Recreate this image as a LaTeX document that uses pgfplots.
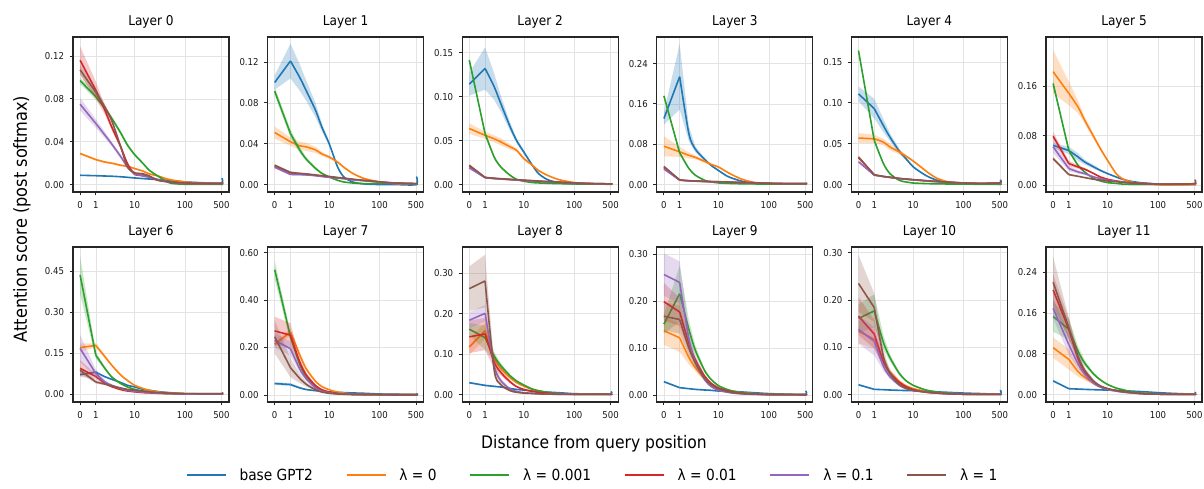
\documentclass[border=0pt]{standalone}
\usepackage{fontspec}
\setmainfont{DejaVu Sans Condensed}
\usepackage{pgfplots}
\pgfplotsset{compat=1.18}
\usepackage{pgfplotstable}
\definecolor{cb}{HTML}{1F77B4}
\definecolor{co}{HTML}{FF7F0E}
\definecolor{cg}{HTML}{2CA02C}
\definecolor{cr}{HTML}{D62728}
\definecolor{cp}{HTML}{9467BD}
\definecolor{cn}{HTML}{8C564B}

% columns: distance, means (base, lambda=0, 0.001, 0.01, 0.1, 1), band half-widths
\pgfplotstableread{
d b o g r p n wb wo wg wr wp wn
0 0.0087 0.029 0.097 0.116 0.075 0.107 0.0005 0.001 0.003 0.013 0.006 0.005
1 0.0083 0.0233 0.082 0.088 0.057 0.086 0.0004 0.001 0.003 0.008 0.004 0.004
2 0.0080 0.021 0.071 0.069 0.046 0.072 0.0003 0.001 0.002 0.004 0.003 0.003
3 0.0078 0.020 0.062 0.054 0.038 0.060 0.0003 0.001 0.002 0.003 0.002 0.002
5 0.0073 0.018 0.048 0.035 0.026 0.035 0.0003 0.001 0.002 0.002 0.002 0.002
7 0.0068 0.017 0.037 0.0196 0.0165 0.0165 0.0003 0.001 0.002 0.002 0.001 0.001
10 0.0062 0.015 0.028 0.0096 0.010 0.011 0.0003 0.0008 0.001 0.001 0.001 0.001
15 0.0056 0.0125 0.0196 0.0087 0.008 0.010 0.0002 0.0008 0.001 0.001 0.001 0.001
20 0.0052 0.010 0.0134 0.007 0.007 0.008 0.0002 0.0005 0.001 0.001 0.001 0.001
30 0.0046 0.008 0.0078 0.004 0.0047 0.004 0.0002 0.0005 0.0005 0.0005 0.0005 0.0005
50 0.0038 0.0047 0.0016 0.0025 0.0025 0.0025 0.0002 0.0005 0.0003 0.0005 0.0005 0.0005
100 0.0025 0.0025 0.0003 0.001 0.0012 0.0016 0.0002 0.0003 0.0002 0.0003 0.0003 0.0003
200 0.0018 0.0015 0.0002 0.001 0.001 0.0012 0.0002 0.0002 0.0002 0.0003 0.0003 0.0003
500 0.0015 0.001 0.0002 0.001 0.001 0.001 0.0002 0.0002 0.0002 0.0003 0.0003 0.0003
511 0.006 0.001 0.0002 0.002 0.001 0.002 0.0005 0.0002 0.0002 0.0003 0.0003 0.0003
}\tabA
\pgfplotstableread{
d b o g r p n wb wo wg wr wp wn
0 0.100 0.051 0.0915 0.018 0.017 0.019 0.007 0.006 0.004 0.001 0.001 0.001
1 0.121 0.042 0.050 0.011 0.010 0.012 0.017 0.004 0.004 0.001 0.001 0.001
2 0.105 0.038 0.034 0.0105 0.0098 0.011 0.013 0.004 0.003 0.001 0.001 0.001
3 0.092 0.037 0.025 0.010 0.0095 0.0105 0.010 0.004 0.002 0.0008 0.0008 0.0008
5 0.073 0.034 0.016 0.009 0.0088 0.0095 0.007 0.003 0.0015 0.0005 0.0005 0.0005
7 0.056 0.030 0.011 0.0082 0.008 0.0088 0.004 0.002 0.001 0.0005 0.0005 0.0005
10 0.040 0.027 0.0075 0.0075 0.0072 0.008 0.002 0.0015 0.001 0.0005 0.0005 0.0005
15 0.017 0.022 0.0042 0.0066 0.0064 0.007 0.001 0.001 0.0005 0.0005 0.0005 0.0005
20 0.0075 0.017 0.0026 0.006 0.0058 0.0064 0.0005 0.001 0.0005 0.0003 0.0003 0.0003
30 0.0026 0.011 0.0016 0.005 0.0048 0.0053 0.0003 0.0005 0.0003 0.0003 0.0003 0.0003
50 0.0007 0.006 0.001 0.004 0.0038 0.0042 0.0002 0.0005 0.0002 0.0003 0.0003 0.0003
100 0.0001 0.0026 0.001 0.0026 0.0025 0.0028 0.0001 0.0003 0.0002 0.0002 0.0002 0.0002
200 0.0001 0.001 0.0016 0.0015 0.0014 0.0016 0.0001 0.0002 0.0003 0.0002 0.0002 0.0002
500 0.0001 0.0005 0.0002 0.001 0.001 0.001 0.0001 0.0002 0.0002 0.0002 0.0002 0.0002
511 0.008 0.0005 0.0002 0.001 0.001 0.001 0.001 0.0002 0.0002 0.0002 0.0002 0.0002
}\tabB
\pgfplotstableread{
d b o g r p n wb wo wg wr wp wn
0 0.114 0.0637 0.1414 0.021 0.019 0.022 0.013 0.006 0.002 0.001 0.001 0.001
1 0.132 0.056 0.058 0.008 0.0078 0.0082 0.024 0.004 0.003 0.0005 0.0005 0.0005
2 0.111 0.052 0.031 0.007 0.0068 0.0072 0.015 0.004 0.002 0.0005 0.0005 0.0005
3 0.092 0.0485 0.020 0.0065 0.0063 0.0067 0.009 0.004 0.001 0.0005 0.0005 0.0005
5 0.066 0.043 0.0106 0.0058 0.0056 0.006 0.005 0.003 0.001 0.0005 0.0005 0.0005
7 0.050 0.039 0.006 0.0053 0.0051 0.0055 0.003 0.002 0.0005 0.0005 0.0005 0.0005
10 0.037 0.0296 0.0038 0.0048 0.0046 0.005 0.002 0.0015 0.0005 0.0005 0.0005 0.0005
15 0.022 0.022 0.0023 0.0043 0.0041 0.0045 0.001 0.001 0.0003 0.0003 0.0003 0.0003
20 0.0125 0.016 0.0019 0.0038 0.0037 0.004 0.0008 0.001 0.0003 0.0003 0.0003 0.0003
30 0.0057 0.0106 0.0015 0.0033 0.0032 0.0034 0.0005 0.0005 0.0002 0.0003 0.0003 0.0003
50 0.0023 0.0057 0.0011 0.0027 0.0026 0.0028 0.0003 0.0005 0.0002 0.0002 0.0002 0.0002
100 0.0008 0.0023 0.0008 0.0018 0.0018 0.0019 0.0002 0.0003 0.0002 0.0002 0.0002 0.0002
200 0.0005 0.001 0.0006 0.0012 0.0012 0.0013 0.0001 0.0002 0.0001 0.0002 0.0002 0.0002
500 0.0005 0.0005 0.0004 0.0008 0.0008 0.0008 0.0001 0.0002 0.0001 0.0002 0.0002 0.0002
511 0.001 0.0005 0.0004 0.0008 0.0008 0.0008 0.0002 0.0002 0.0001 0.0002 0.0002 0.0002
}\tabC
\pgfplotstableread{
d b o g r p n wb wo wg wr wp wn
0 0.131 0.076 0.176 0.034 0.031 0.036 0.012 0.020 0.002 0.002 0.002 0.002
1 0.214 0.065 0.063 0.009 0.0088 0.0092 0.065 0.010 0.003 0.0005 0.0005 0.0005
2 0.101 0.058 0.032 0.0075 0.0073 0.0077 0.015 0.006 0.002 0.0005 0.0005 0.0005
3 0.070 0.054 0.0185 0.007 0.0068 0.0072 0.006 0.004 0.001 0.0005 0.0005 0.0005
5 0.050 0.046 0.0086 0.0062 0.006 0.0064 0.003 0.003 0.001 0.0005 0.0005 0.0005
7 0.038 0.040 0.0053 0.0058 0.0056 0.006 0.002 0.002 0.0005 0.0005 0.0005 0.0005
10 0.028 0.035 0.0033 0.0055 0.0053 0.0057 0.001 0.0015 0.0005 0.0005 0.0005 0.0005
15 0.017 0.025 0.0025 0.005 0.0048 0.0052 0.001 0.001 0.0003 0.0003 0.0003 0.0003
20 0.012 0.0185 0.002 0.0045 0.0044 0.0047 0.0008 0.001 0.0003 0.0003 0.0003 0.0003
30 0.0066 0.0106 0.0016 0.004 0.0039 0.0042 0.0005 0.0005 0.0002 0.0003 0.0003 0.0003
50 0.0026 0.0046 0.0013 0.0035 0.0034 0.0036 0.0003 0.0005 0.0002 0.0003 0.0003 0.0003
100 0.0013 0.002 0.0011 0.0026 0.0026 0.0027 0.0002 0.0003 0.0002 0.0002 0.0002 0.0002
200 0.001 0.0012 0.001 0.002 0.002 0.0021 0.0002 0.0002 0.0002 0.0002 0.0002 0.0002
500 0.001 0.001 0.0009 0.002 0.002 0.0022 0.0002 0.0002 0.0002 0.0002 0.0002 0.0002
511 0.002 0.001 0.0009 0.002 0.002 0.003 0.0003 0.0002 0.0002 0.0002 0.0002 0.0003
}\tabD
\pgfplotstableread{
d b o g r p n wb wo wg wr wp wn
0 0.111 0.057 0.164 0.033 0.028 0.034 0.009 0.006 0.001 0.001 0.001 0.001
1 0.093 0.056 0.054 0.012 0.0115 0.012 0.012 0.005 0.002 0.0005 0.0005 0.0005
2 0.072 0.052 0.0256 0.010 0.0098 0.010 0.008 0.004 0.001 0.0005 0.0005 0.0005
3 0.058 0.046 0.0134 0.009 0.0088 0.009 0.005 0.004 0.0005 0.0005 0.0005 0.0005
5 0.041 0.040 0.0053 0.0075 0.0073 0.0076 0.003 0.003 0.0005 0.0005 0.0005 0.0005
7 0.032 0.035 0.0033 0.0068 0.0066 0.0069 0.002 0.002 0.0003 0.0005 0.0005 0.0005
10 0.022 0.029 0.002 0.006 0.0058 0.0061 0.001 0.001 0.0003 0.0003 0.0003 0.0003
15 0.0145 0.021 0.0015 0.0052 0.005 0.0053 0.001 0.001 0.0002 0.0003 0.0003 0.0003
20 0.010 0.015 0.0012 0.0045 0.0044 0.0046 0.0005 0.0008 0.0002 0.0003 0.0003 0.0003
30 0.0055 0.008 0.001 0.0038 0.0037 0.0039 0.0003 0.0005 0.0002 0.0003 0.0003 0.0003
50 0.0025 0.0035 0.0008 0.003 0.003 0.0031 0.0002 0.0003 0.0002 0.0002 0.0002 0.0002
100 0.0012 0.0013 0.0006 0.002 0.002 0.0021 0.0002 0.0002 0.0001 0.0002 0.0002 0.0002
200 0.0012 0.0008 0.0005 0.0015 0.0015 0.0016 0.0002 0.0002 0.0001 0.0002 0.0002 0.0002
500 0.002 0.0005 0.0004 0.002 0.0015 0.002 0.0003 0.0002 0.0001 0.0002 0.0002 0.0002
511 0.006 0.0005 0.0004 0.003 0.002 0.004 0.0005 0.0002 0.0001 0.0003 0.0002 0.0003
}\tabE
\pgfplotstableread{
d b o g r p n wb wo wg wr wp wn
0 0.0644 0.183 0.164 0.079 0.062 0.043 0.004 0.035 0.004 0.007 0.010 0.003
1 0.056 0.148 0.056 0.035 0.027 0.0172 0.006 0.019 0.003 0.004 0.004 0.002
2 0.0456 0.126 0.032 0.0295 0.0215 0.0145 0.006 0.010 0.002 0.003 0.003 0.001
3 0.0376 0.105 0.0215 0.026 0.0188 0.0124 0.004 0.006 0.001 0.002 0.002 0.001
5 0.0295 0.078 0.0107 0.0188 0.0134 0.0097 0.003 0.004 0.001 0.001 0.001 0.001
7 0.024 0.059 0.007 0.0134 0.011 0.0085 0.002 0.003 0.0005 0.001 0.001 0.0005
10 0.0188 0.040 0.0043 0.0097 0.008 0.007 0.001 0.002 0.0005 0.0005 0.0005 0.0005
15 0.0134 0.0188 0.003 0.007 0.0065 0.0058 0.001 0.001 0.0003 0.0005 0.0005 0.0005
20 0.0097 0.0107 0.002 0.0054 0.0054 0.0048 0.0008 0.001 0.0003 0.0003 0.0003 0.0003
30 0.0064 0.0054 0.0017 0.0038 0.0042 0.004 0.0005 0.0005 0.0002 0.0003 0.0003 0.0003
50 0.0038 0.0027 0.0016 0.0027 0.0032 0.0032 0.0003 0.0003 0.0002 0.0003 0.0003 0.0003
100 0.002 0.001 0.0016 0.0016 0.002 0.002 0.0002 0.0002 0.0002 0.0002 0.0002 0.0002
200 0.0016 0.0008 0.0018 0.0015 0.0017 0.002 0.0002 0.0002 0.0002 0.0002 0.0002 0.0002
500 0.0016 0.0008 0.0025 0.002 0.002 0.0027 0.0002 0.0002 0.0003 0.0002 0.0002 0.0003
511 0.003 0.0008 0.0025 0.004 0.003 0.009 0.0003 0.0002 0.0003 0.0003 0.0003 0.0005
}\tabF
\pgfplotstableread{
d b o g r p n wb wo wg wr wp wn
0 0.072 0.171 0.437 0.095 0.168 0.088 0.004 0.015 0.070 0.030 0.050 0.012
1 0.081 0.179 0.143 0.065 0.076 0.045 0.004 0.008 0.012 0.010 0.015 0.006
2 0.064 0.137 0.094 0.040 0.045 0.037 0.003 0.006 0.006 0.005 0.006 0.004
3 0.055 0.107 0.064 0.028 0.033 0.031 0.003 0.004 0.004 0.003 0.004 0.003
5 0.043 0.070 0.039 0.017 0.021 0.023 0.002 0.003 0.002 0.002 0.002 0.002
7 0.033 0.051 0.027 0.012 0.0147 0.018 0.002 0.002 0.002 0.001 0.001 0.001
10 0.027 0.033 0.018 0.009 0.011 0.0147 0.001 0.001 0.001 0.001 0.001 0.001
15 0.018 0.021 0.012 0.006 0.008 0.011 0.001 0.001 0.001 0.0005 0.0005 0.0005
20 0.0147 0.0147 0.0086 0.005 0.006 0.0086 0.001 0.001 0.0005 0.0005 0.0005 0.0005
30 0.0098 0.0086 0.005 0.0035 0.004 0.006 0.0005 0.0005 0.0005 0.0005 0.0005 0.0005
50 0.006 0.005 0.0025 0.0025 0.0025 0.004 0.0005 0.0005 0.0003 0.0003 0.0003 0.0003
100 0.0025 0.0025 0.001 0.0012 0.0012 0.0025 0.0003 0.0003 0.0002 0.0002 0.0002 0.0002
200 0.002 0.0015 0.0008 0.001 0.001 0.002 0.0002 0.0002 0.0002 0.0002 0.0002 0.0002
500 0.002 0.001 0.0005 0.001 0.001 0.002 0.0002 0.0002 0.0002 0.0002 0.0002 0.0002
511 0.003 0.001 0.0005 0.002 0.002 0.006 0.0003 0.0002 0.0002 0.0002 0.0002 0.0005
}\tabG
\pgfplotstableread{
d b o g r p n wb wo wg wr wp wn
0 0.048 0.214 0.528 0.270 0.230 0.245 0.006 0.012 0.040 0.060 0.030 0.070
1 0.044 0.265 0.245 0.252 0.195 0.115 0.006 0.015 0.020 0.050 0.030 0.040
2 0.030 0.170 0.130 0.140 0.110 0.070 0.004 0.010 0.010 0.020 0.015 0.020
3 0.023 0.110 0.075 0.085 0.068 0.045 0.003 0.008 0.006 0.010 0.008 0.010
5 0.018 0.058 0.035 0.040 0.030 0.022 0.002 0.004 0.003 0.004 0.003 0.004
7 0.0156 0.035 0.020 0.022 0.016 0.012 0.002 0.002 0.002 0.002 0.002 0.002
10 0.0127 0.022 0.012 0.012 0.009 0.007 0.001 0.001 0.001 0.001 0.001 0.001
15 0.011 0.012 0.006 0.006 0.005 0.004 0.001 0.001 0.0005 0.0005 0.0005 0.0005
20 0.010 0.008 0.004 0.004 0.004 0.003 0.001 0.0005 0.0005 0.0005 0.0005 0.0005
30 0.0085 0.004 0.002 0.003 0.003 0.002 0.0008 0.0005 0.0003 0.0003 0.0003 0.0003
50 0.007 0.002 0.0015 0.002 0.002 0.0015 0.0005 0.0003 0.0003 0.0003 0.0003 0.0003
100 0.004 0.0015 0.001 0.0015 0.0015 0.0012 0.0003 0.0002 0.0002 0.0002 0.0002 0.0002
200 0.003 0.001 0.0008 0.001 0.001 0.001 0.0003 0.0002 0.0002 0.0002 0.0002 0.0002
500 0.002 0.001 0.0006 0.001 0.001 0.001 0.0002 0.0002 0.0002 0.0002 0.0002 0.0002
511 0.006 0.001 0.0006 0.001 0.001 0.001 0.0005 0.0002 0.0002 0.0002 0.0002 0.0002
}\tabH
\pgfplotstableread{
d b o g r p n wb wo wg wr wp wn
0 0.0297 0.118 0.162 0.143 0.184 0.262 0.002 0.020 0.015 0.040 0.020 0.055
1 0.023 0.158 0.141 0.150 0.201 0.281 0.002 0.020 0.030 0.040 0.020 0.065
2 0.0206 0.090 0.095 0.080 0.070 0.060 0.002 0.010 0.010 0.015 0.010 0.015
3 0.019 0.065 0.072 0.055 0.035 0.025 0.001 0.006 0.006 0.008 0.005 0.006
5 0.0157 0.042 0.047 0.032 0.014 0.010 0.001 0.003 0.003 0.004 0.002 0.002
7 0.013 0.030 0.034 0.020 0.008 0.006 0.001 0.002 0.002 0.002 0.001 0.001
10 0.0115 0.021 0.024 0.013 0.005 0.004 0.001 0.001 0.001 0.001 0.0005 0.0005
15 0.0095 0.013 0.014 0.008 0.0035 0.003 0.0005 0.001 0.001 0.0005 0.0005 0.0005
20 0.008 0.009 0.010 0.006 0.0025 0.002 0.0005 0.0005 0.0005 0.0005 0.0003 0.0003
30 0.0065 0.005 0.006 0.004 0.0018 0.0015 0.0005 0.0005 0.0005 0.0003 0.0003 0.0003
50 0.005 0.0025 0.003 0.002 0.0012 0.001 0.0003 0.0003 0.0003 0.0002 0.0002 0.0002
100 0.0025 0.0012 0.0012 0.001 0.001 0.0008 0.0002 0.0002 0.0002 0.0002 0.0002 0.0002
200 0.002 0.001 0.001 0.0008 0.0008 0.0008 0.0002 0.0002 0.0002 0.0002 0.0002 0.0002
500 0.002 0.0008 0.0008 0.0008 0.0008 0.0008 0.0002 0.0002 0.0002 0.0002 0.0002 0.0002
511 0.008 0.0008 0.0008 0.0008 0.0008 0.0008 0.0005 0.0002 0.0002 0.0002 0.0002 0.0002
}\tabI
\pgfplotstableread{
d b o g r p n wb wo wg wr wp wn
0 0.0284 0.137 0.151 0.199 0.257 0.168 0.002 0.030 0.020 0.040 0.045 0.030
1 0.0156 0.122 0.216 0.177 0.240 0.161 0.001 0.030 0.060 0.030 0.045 0.030
2 0.0135 0.080 0.140 0.110 0.120 0.100 0.001 0.015 0.020 0.015 0.020 0.015
3 0.012 0.058 0.095 0.075 0.070 0.068 0.001 0.008 0.010 0.008 0.010 0.008
5 0.0107 0.034 0.052 0.040 0.033 0.036 0.001 0.004 0.004 0.004 0.004 0.004
7 0.010 0.022 0.033 0.025 0.018 0.022 0.001 0.002 0.002 0.002 0.002 0.002
10 0.0085 0.015 0.020 0.015 0.010 0.013 0.001 0.001 0.001 0.001 0.001 0.001
15 0.008 0.011 0.012 0.009 0.006 0.008 0.0005 0.001 0.001 0.0005 0.0005 0.0005
20 0.0078 0.008 0.008 0.006 0.004 0.005 0.0005 0.0005 0.0005 0.0005 0.0005 0.0005
30 0.0065 0.005 0.005 0.0035 0.0025 0.003 0.0005 0.0005 0.0005 0.0003 0.0003 0.0003
50 0.005 0.003 0.0025 0.002 0.0015 0.002 0.0003 0.0003 0.0003 0.0002 0.0002 0.0002
100 0.003 0.0015 0.001 0.001 0.001 0.0012 0.0002 0.0002 0.0002 0.0002 0.0002 0.0002
200 0.002 0.001 0.0008 0.0008 0.0008 0.0008 0.0002 0.0002 0.0002 0.0002 0.0002 0.0002
500 0.0015 0.0008 0.0006 0.0006 0.0006 0.0006 0.0002 0.0002 0.0002 0.0002 0.0002 0.0002
511 0.009 0.0008 0.0006 0.0006 0.0006 0.0006 0.0005 0.0002 0.0002 0.0002 0.0002 0.0002
}\tabJ
\pgfplotstableread{
d b o g r p n wb wo wg wr wp wn
0 0.021 0.134 0.161 0.166 0.138 0.235 0.002 0.025 0.030 0.040 0.030 0.060
1 0.0113 0.117 0.177 0.128 0.113 0.184 0.001 0.020 0.035 0.030 0.030 0.030
2 0.0106 0.070 0.110 0.070 0.060 0.080 0.001 0.010 0.015 0.012 0.010 0.015
3 0.0099 0.048 0.078 0.045 0.038 0.045 0.001 0.006 0.008 0.006 0.005 0.006
5 0.0092 0.028 0.045 0.026 0.020 0.022 0.001 0.003 0.004 0.003 0.002 0.003
7 0.0088 0.019 0.030 0.017 0.013 0.014 0.001 0.002 0.002 0.002 0.001 0.001
10 0.0085 0.013 0.020 0.011 0.009 0.009 0.001 0.001 0.001 0.001 0.001 0.001
15 0.0078 0.009 0.013 0.007 0.0065 0.0065 0.0005 0.0005 0.001 0.0005 0.0005 0.0005
20 0.007 0.007 0.009 0.005 0.005 0.005 0.0005 0.0005 0.0005 0.0005 0.0005 0.0005
30 0.006 0.0045 0.006 0.0035 0.0035 0.0035 0.0005 0.0003 0.0005 0.0003 0.0003 0.0003
50 0.005 0.003 0.003 0.002 0.002 0.002 0.0003 0.0003 0.0003 0.0002 0.0002 0.0002
100 0.0035 0.0015 0.0012 0.001 0.001 0.001 0.0002 0.0002 0.0002 0.0002 0.0002 0.0002
200 0.0025 0.001 0.0008 0.0008 0.0008 0.0008 0.0002 0.0002 0.0002 0.0002 0.0002 0.0002
500 0.0015 0.0008 0.0006 0.0006 0.0006 0.0006 0.0002 0.0002 0.0002 0.0002 0.0002 0.0002
511 0.010 0.0008 0.0006 0.0006 0.0006 0.0006 0.0005 0.0002 0.0002 0.0002 0.0002 0.0002
}\tabK
\pgfplotstableread{
d b o g r p n wb wo wg wr wp wn
0 0.027 0.092 0.153 0.205 0.169 0.220 0.002 0.020 0.030 0.030 0.020 0.050
1 0.0117 0.069 0.128 0.128 0.098 0.131 0.001 0.020 0.020 0.020 0.020 0.020
2 0.011 0.045 0.085 0.070 0.060 0.075 0.001 0.010 0.010 0.010 0.010 0.010
3 0.0104 0.034 0.062 0.045 0.040 0.048 0.001 0.006 0.006 0.005 0.005 0.006
5 0.0098 0.022 0.040 0.025 0.022 0.026 0.001 0.003 0.003 0.003 0.003 0.003
7 0.0094 0.015 0.029 0.016 0.015 0.017 0.001 0.002 0.002 0.002 0.002 0.002
10 0.009 0.011 0.020 0.011 0.010 0.012 0.001 0.001 0.001 0.001 0.001 0.001
15 0.0084 0.008 0.013 0.008 0.007 0.008 0.0005 0.0005 0.001 0.0005 0.0005 0.0005
20 0.0078 0.006 0.010 0.006 0.005 0.006 0.0005 0.0005 0.0005 0.0005 0.0005 0.0005
30 0.007 0.0045 0.006 0.004 0.0035 0.004 0.0005 0.0003 0.0005 0.0003 0.0003 0.0003
50 0.0059 0.003 0.003 0.002 0.002 0.002 0.0003 0.0003 0.0003 0.0002 0.0002 0.0002
100 0.004 0.0015 0.0013 0.001 0.001 0.001 0.0002 0.0002 0.0002 0.0002 0.0002 0.0002
200 0.0025 0.001 0.0008 0.0008 0.0008 0.0008 0.0002 0.0002 0.0002 0.0002 0.0002 0.0002
500 0.0013 0.0008 0.0006 0.0006 0.0006 0.0006 0.0002 0.0002 0.0002 0.0002 0.0002 0.0002
511 0.005 0.0008 0.0006 0.0006 0.0006 0.0006 0.0005 0.0002 0.0002 0.0002 0.0002 0.0002
}\tabL

% append each table's rows in reverse order, so that a band is one closed outline:
% rows 0-14 = upper edge (mean + w), rows 15-29 = lower edge (mean - w) going back
\newcommand{\addreverse}[1]{%
  \pgfplotstablesort[sort key=d, sort cmp={float >}]{\tmprev}{#1}%
  \pgfplotstablevertcat{#1}{\tmprev}}
\addreverse{\tabA}\addreverse{\tabB}\addreverse{\tabC}\addreverse{\tabD}
\addreverse{\tabE}\addreverse{\tabF}\addreverse{\tabG}\addreverse{\tabH}
\addreverse{\tabI}\addreverse{\tabJ}\addreverse{\tabK}\addreverse{\tabL}

\pgfplotsset{
  common/.style={
    width=156pt, height=155pt, scale only axis,
    xmin=-0.1355, xmax=2.8445,
    xtick={0,0.30103,1.04139,2.00432,2.69984},
    xticklabels={0,1,10,100,500},
    tick align=outside, tick pos=left,
    major tick length=3.5pt,
    grid=major,
    major grid style={line width=0.6pt, color=black!11},
    axis line style={line width=1.1pt, black!85},
    major tick style={black!85, line width=0.9pt},
    tick label style={font=\fontsize{9.5}{11}\selectfont, black!90},
    x tick label style={yshift=-2.5pt},
    /pgf/number format/assume math mode=true,
    y tick label style={xshift=-2pt, /pgf/number format/.cd, fixed, fixed zerofill, precision=2, /tikz/.cd},
    scaled y ticks=false,
    title style={font=\fontsize{13.5}{16}\selectfont, at={(0.5,1)}, anchor=base, yshift=5pt, inner sep=0pt},
  },
}

\newcommand{\panel}[7]{%
\begin{axis}[common, at={(#2pt,#3pt)}, anchor=south west, title={#4},
  ymin=#5, ymax=#6, ytick={#7}]
\pgfplotsinvokeforeach{b,o,g,r,p,n}{
  \addplot[fill=c##1, fill opacity=0.25, draw=none, forget plot] table[x expr={ln(\thisrow{d}+1)/ln(10)}, y expr={\thisrow{##1}+(2*(\coordindex<15)-1)*\thisrow{w##1}}]{#1};
  \addplot[c##1, line width=1.6pt, forget plot, skip coords between index={2}{30}] table[x expr={ln(\thisrow{d}+1)/ln(10)}, y=##1]{#1};
  \addplot[c##1, line width=1.6pt, forget plot, smooth, tension=0.45, line join=round, skip coords between index={15}{30}, restrict x to domain=0.3:3] table[x expr={ln(\thisrow{d}+1)/ln(10)}, y=##1]{#1};
}
\end{axis}}

\begin{document}
\begin{tikzpicture}
\path[use as bounding box] (0pt,0pt) rectangle (1204pt,489pt);
\panel{\tabA}{73}{297}{Layer 0}{-0.0069}{0.1377}{0,0.04,0.08,0.12}
\panel{\tabB}{267.6}{297}{Layer 1}{-0.0072}{0.1445}{0,0.04,0.08,0.12}
\panel{\tabC}{462.2}{297}{Layer 2}{-0.0084}{0.1677}{0,0.05,0.10,0.15}
\panel{\tabD}{656.8}{297}{Layer 3}{-0.0147}{0.2928}{0,0.08,0.16,0.24}
\panel{\tabE}{851.4}{297}{Layer 4}{-0.009}{0.1806}{0,0.05,0.10,0.15}
\panel{\tabF}{1046}{297}{Layer 5}{-0.0108}{0.2389}{0,0.08,0.16}
\panel{\tabG}{73}{87}{Layer 6}{-0.0283}{0.5397}{0,0.15,0.30,0.45}
\panel{\tabH}{267.6}{87}{Layer 7}{-0.0297}{0.6238}{0,0.2,0.4,0.6}
\panel{\tabI}{462.2}{87}{Layer 8}{-0.018}{0.365}{0,0.1,0.2,0.3}
\panel{\tabJ}{656.8}{87}{Layer 9}{-0.0149}{0.3156}{0,0.1,0.2,0.3}
\panel{\tabK}{851.4}{87}{Layer 10}{-0.0154}{0.312}{0,0.1,0.2,0.3}
\panel{\tabL}{1046}{87}{Layer 11}{-0.0143}{0.289}{0,0.08,0.16,0.24}

\node[rotate=90, font=\fontsize{18}{21}\selectfont] at (22pt,270pt) {Attention score (post softmax)};
\node[font=\fontsize{17.3}{20}\selectfont, anchor=base] at (594pt,40pt) {Distance from query position};

\begin{axis}[at={(0pt,-1pt)}, anchor=south west, width=1204pt, height=30pt, scale only axis,
  hide axis, xmin=0, xmax=1, ymin=0, ymax=1,
  legend columns=6,
  legend image code/.code={\draw[#1] (0pt,0pt) -- (39pt,0pt);},
  legend style={at={(0.4914,0.5)}, anchor=center, draw=none, fill=none,
    font=\fontsize{15.3}{18}\selectfont,
    nodes={inner sep=0pt},
    /tikz/every even column/.append style={column sep=33pt},
    /tikz/every odd column/.append style={column sep=13pt}}]
\addlegendimage{cb, line width=1.6pt}\addlegendentry{base GPT2}
\addlegendimage{co, line width=1.6pt}\addlegendentry{λ = 0}
\addlegendimage{cg, line width=1.6pt}\addlegendentry{λ = 0.001}
\addlegendimage{cr, line width=1.6pt}\addlegendentry{λ = 0.01}
\addlegendimage{cp, line width=1.6pt}\addlegendentry{λ = 0.1}
\addlegendimage{cn, line width=1.6pt}\addlegendentry{λ = 1}
\end{axis}
\end{tikzpicture}
\end{document}
